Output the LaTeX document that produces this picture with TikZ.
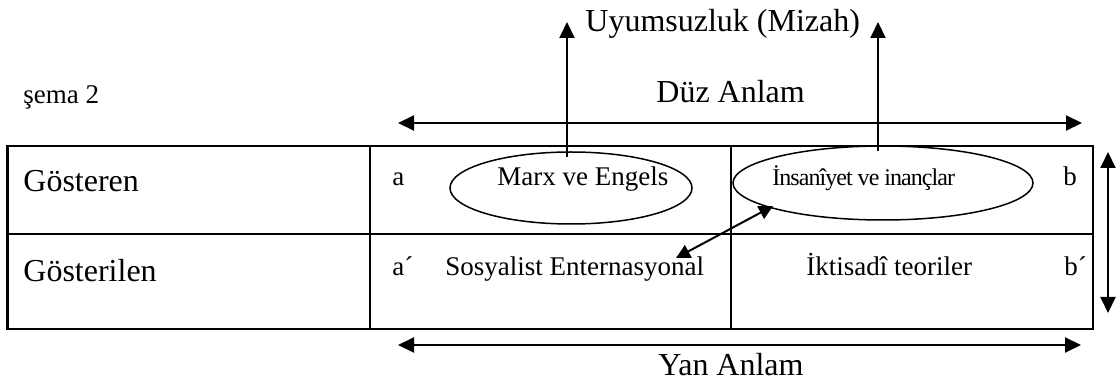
\documentclass[tikz,border=0pt]{standalone}
\usepackage{fontspec}
\setmainfont{Liberation Serif}
\newfontfamily\tightserif[LetterSpace=-4]{Liberation Serif}
\usetikzlibrary{arrows.meta,shapes.geometric}
\begin{document}
\begin{tikzpicture}[x=0.5pt,y=-0.5pt,
  big/.style={inner sep=0pt,anchor=base west,font=\fontsize{16}{19}\selectfont},
  small/.style={inner sep=0pt,anchor=base west,font=\fontsize{13.5}{16}\selectfont},
  frame/.style={line width=1.25pt},
  oval/.style={draw,ellipse,line width=0.75pt,inner sep=0pt},
  arr/.style={line width=1pt,-{Triangle[length=8pt,width=7.5pt]}},
  darr/.style={line width=1pt,{Triangle[length=8pt,width=7.5pt]}-{Triangle[length=8pt,width=7.5pt]}},
  sarr/.style={line width=1pt,{Triangle[length=7pt,width=7pt]}-{Triangle[length=7pt,width=7pt]}}]
\useasboundingbox (0,0) rectangle (1119,379);

% table grid
\draw[frame] (7.5,146) rectangle (1093,329);
\draw[frame] (7.5,234) -- (1093,234);
\draw[frame] (370,146) -- (370,329);
\draw[frame] (731,146) -- (731,329);

% ovals around the signifiers
\node[oval,minimum width=121pt,minimum height=36pt] (e1) at (571,188) {};
\node[oval,minimum width=150pt,minimum height=37pt] (e2) at (883,183) {};

% texts
\node[small] (sema) at (23,104) {şema 2};
\node[big] (gos) at (23,192) {Gösteren};
\node[big] (gsl) at (23,282) {Gösterilen};
\node[small] (a) at (392,186) {a};
\node[small] (marx) at (497,186) {Marx ve Engels};
\node[inner sep=0pt,anchor=base west,font=\tightserif\fontsize{12}{15}\selectfont] (ins) at (772,186) {İnsanîyet ve inançlar};
\node[small] (b) at (1063,186) {b};
\node[small] (ap) at (392,276) {a´};
\node[small] (sos) at (445,276) {Sosyalist Enternasyonal};
\node[small] (ikt) at (806,276) {İktisadî teoriler};
\node[small] (bp) at (1064,276) {b´};
\node[big] (duz) at (656,103) {Düz Anlam};
\node[big] (uyum) at (585,32) {Uyumsuzluk (Mizah)};
\node[big] (yan) at (658,375) {Yan Anlam};

% arrow end points
\coordinate (u1) at (567,22);
\coordinate (u2) at (878,22);
\coordinate (d1) at (398,123);
\coordinate (d2) at (1082,123);
\coordinate (y1) at (398,345);
\coordinate (y2) at (1081,345);
\coordinate (v1) at (1108,152);
\coordinate (v2) at (1108,313);
\coordinate (k1) at (773,206);
\coordinate (k2) at (676,258);

% connectors
\draw[arr] ([yshift=-3pt]u1 |- e1.north) -- (u1);
\draw[arr] ([yshift=-3pt]u2 |- e2.north) -- (u2);
\draw[darr] (d1) -- (d2);
\draw[darr] (y1) -- (y2);
\draw[darr] (v1) -- (v2);
\draw[sarr] (k1) -- (k2);
\end{tikzpicture}
\end{document}
